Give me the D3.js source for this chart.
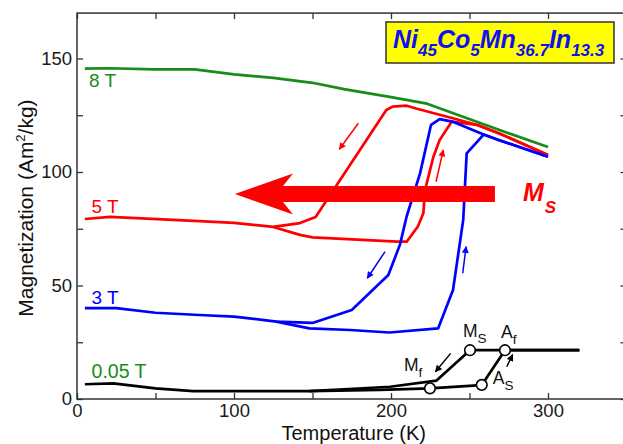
<!DOCTYPE html>
<html>
<head>
<meta charset="utf-8">
<script src="https://cdn.jsdelivr.net/npm/d3@7"></script>
<style>
  html, body { margin: 0; padding: 0; background: #fff; }
  svg { display: block; font-family: "Liberation Sans", Arial, Helvetica, sans-serif; }
</style>
</head>
<body>
<svg id="chart" width="623" height="444"></svg>
<script>
// ---- Magnetization vs temperature, Ni45Co5Mn36.7In13.3 ----

// 8 T (single curve, no hysteresis)
const temp8T = [5, 20, 50, 75, 100, 125, 150, 170, 200, 223, 248, 274, 300];
const mag8T  = [145.5, 145.7, 145.2, 145.2, 143.0, 141.5, 139.3, 136.5, 133.0, 130.1, 123.8, 117.3, 111.0];

// 5 T cooling branch (from 300 K downward)
const temp5TCool = [300, 269, 255, 240, 216, 210, 201, 197, 152, 147, 142, 125, 100, 78, 21, 5];
const mag5TCool  = [107.5, 117.0, 120.7, 123.6, 128.0, 129.2, 128.8, 127.3, 80.2, 78.9, 77.5, 75.8, 77.6, 78.4, 80.2, 79.3];
// 5 T heating branch (from the branch point upward)
const temp5THeat = [125, 142, 150, 204, 210, 217, 220.6, 221.7, 227, 231, 238.7, 255, 269, 300];
const mag5THeat  = [75.8, 72.3, 71.2, 69.3, 69.3, 75.9, 81.8, 92.1, 106.7, 114.1, 122.2, 120.7, 117.0, 107.5];

// 3 T cooling branch
const temp3TCool = [300, 269, 259, 239, 231, 225.5, 218.5, 210, 205.7, 198.3, 175, 150, 127, 100, 78, 50, 25, 5];
const mag3TCool  = [106.7, 114.0, 116.5, 122.2, 123.3, 120.8, 99.4, 80.5, 68.0, 54.6, 39.2, 33.5, 34.1, 36.3, 37.0, 38.0, 40.0, 40.0];
// 3 T heating branch
const temp3THeat = [127, 148, 174, 199, 230, 239.5, 246, 248.2, 259, 269, 300];
const mag3THeat  = [34.1, 31.1, 30.4, 29.3, 31.1, 48.0, 78.9, 108.2, 116.5, 114.0, 106.7];

// 0.05 T cooling branch
const temp005Cool = [320, 250.3, 229, 199.4, 170, 148, 74, 50, 23, 5];
const mag005Cool  = [21.5, 21.5, 8.1, 5.4, 4.3, 3.5, 3.5, 4.7, 6.9, 6.5];
// 0.05 T heating branch
const temp005Heat = [148, 193, 224.8, 252.4, 257.8, 272.6, 320];
const mag005Heat  = [3.5, 4.0, 4.7, 5.9, 6.2, 21.5, 21.5];

// Transition temperatures marked on the 0.05 T curve
const transNames = ["M", "A", "M", "A"];
const transSubs  = ["S", "f", "f", "S"];
const transTemp  = [250.3, 272.6, 224.8, 257.8];
const transMag   = [21.5, 21.5, 4.7, 6.2];

// Field labels
const fieldLabels = ["8 T", "5 T", "3 T", "0.05 T"];
const fieldLabelMag = [137.4, 81.9, 41.9, 9.3];

// Axis ticks
const xTicks = [0, 50, 100, 150, 200, 250, 300, 350];
const xTickLabels = [0, 100, 200, 300];
const yTicks = [0, 25, 50, 75, 100, 125, 150];
const yTickLabels = [0, 50, 100, 150];

// ---- layout ----
const svg = d3.select("#chart");
const x = d3.scaleLinear().domain([0, 350]).range([77, 626.5]);
const y = d3.scaleLinear().domain([0, 170]).range([399, 13.1]);

const GREEN = "#178c17", RED = "#ff0000", BLUE = "#0000ff", BLACK = "#000000", AXIS = "#333333";

// axes (ticks pointing inward)
function styleAxis(g) {
  g.select(".domain").remove();
  g.selectAll(".tick line").attr("stroke", AXIS).attr("stroke-width", 1.3);
  g.selectAll(".tick text").attr("fill", "#1a1a1a").style("font-size", "18.5px")
    .style("font-family", '"Liberation Sans", Arial, sans-serif');
}
svg.append("g").attr("transform", `translate(0,${y(0)})`)
  .call(d3.axisBottom(x).tickValues(xTicks).tickSize(-6).tickPadding(5)
    .tickFormat(d => xTickLabels.includes(d) ? d : ""))
  .call(styleAxis);
svg.append("g").attr("transform", `translate(0,${y(170)})`)
  .call(d3.axisTop(x).tickValues(xTicks).tickSize(-6).tickFormat(""))
  .call(styleAxis);
svg.append("g").attr("transform", `translate(${x(0)},0)`)
  .call(d3.axisLeft(y).tickValues(yTicks).tickSize(-6).tickPadding(5)
    .tickFormat(d => yTickLabels.includes(d) ? d : ""))
  .call(styleAxis);
svg.append("g").attr("transform", `translate(${x(350)},0)`)
  .call(d3.axisRight(y).tickValues(yTicks).tickSize(-6).tickFormat(""))
  .call(styleAxis);

// frame
svg.append("rect")
  .attr("x", x(0)).attr("y", y(170))
  .attr("width", x(350) - x(0)).attr("height", y(0) - y(170))
  .attr("fill", "none").attr("stroke", AXIS).attr("stroke-width", 1.5);

// axis titles
svg.append("text")
  .attr("x", (x(0) + x(350)) / 2 + 2).attr("y", 439.5)
  .attr("text-anchor", "middle").attr("fill", "#111").style("font-size", "20px")
  .text("Temperature (K)");
const yTitle = svg.append("text")
  .attr("transform", `translate(33,${(y(0) + y(170)) / 2 + 2}) rotate(-90)`)
  .attr("text-anchor", "middle").attr("fill", "#111").style("font-size", "21px");
yTitle.append("tspan").text("Magnetization (Am");
yTitle.append("tspan").attr("dy", -8).style("font-size", "13px").text("2");
yTitle.append("tspan").attr("dy", 8).text("/kg)");

// curves
const line = d3.line().x(d => x(d[0])).y(d => y(d[1]));
const zipPts = (t, m) => t.map((v, i) => [v, m[i]]);
const curves = [
  { t: temp8T, m: mag8T, c: GREEN },
  { t: temp5TCool, m: mag5TCool, c: RED },
  { t: temp5THeat, m: mag5THeat, c: RED },
  { t: temp3TCool, m: mag3TCool, c: BLUE },
  { t: temp3THeat, m: mag3THeat, c: BLUE },
  { t: temp005Cool, m: mag005Cool, c: BLACK },
  { t: temp005Heat, m: mag005Heat, c: BLACK }
];
svg.append("g").selectAll("path").data(curves).join("path")
  .attr("d", d => line(zipPts(d.t, d.m)))
  .attr("fill", "none").attr("stroke", d => d.c).attr("stroke-width", 2.7)
  .attr("stroke-linejoin", "round").attr("stroke-linecap", "butt");

// field labels
const labelColors = [GREEN, RED, BLUE, GREEN];
svg.append("g").selectAll("text").data(fieldLabels).join("text")
  .attr("x", (d, i) => x(i === 0 ? 7.6 : 9.3))
  .attr("y", (d, i) => y(fieldLabelMag[i]))
  .attr("fill", (d, i) => labelColors[i])
  .style("font-size", (d, i) => i === 3 ? "19.5px" : "19px")
  .text(d => d);

// big arrow indicating the shift of the martensite start temperature
const bigArrow = { tip: 100.6, barb: 137.6, notch: 131.2, tail: 266.2, mid: 90.3, shaftHalf: 3.5, barbHalf: 9.0 };
const ap = [
  [bigArrow.tip, bigArrow.mid],
  [bigArrow.barb, bigArrow.mid + bigArrow.barbHalf],
  [bigArrow.notch, bigArrow.mid + bigArrow.shaftHalf],
  [bigArrow.tail, bigArrow.mid + bigArrow.shaftHalf],
  [bigArrow.tail, bigArrow.mid - bigArrow.shaftHalf],
  [bigArrow.notch, bigArrow.mid - bigArrow.shaftHalf],
  [bigArrow.barb, bigArrow.mid - bigArrow.barbHalf]
];
svg.append("path").attr("d", line(ap) + "Z").attr("fill", RED);

const msLabel = svg.append("text")
  .attr("x", x(284)).attr("y", y(87.2))
  .attr("fill", RED).style("font-weight", "bold").style("font-style", "italic").style("font-size", "25px");
msLabel.append("tspan").text("M");
msLabel.append("tspan").attr("dy", 12).attr("dx", 1).style("font-size", "17px").text("S");

// small direction arrows (cooling / heating)
const defs = svg.append("defs");
[["red", RED], ["blue", BLUE], ["black", BLACK]].forEach(([n, c]) => {
  defs.append("marker").attr("id", "head-" + n)
    .attr("viewBox", "0 0 10 10").attr("refX", 9).attr("refY", 5)
    .attr("markerUnits", "userSpaceOnUse").attr("markerWidth", 9).attr("markerHeight", 7)
    .attr("orient", "auto")
    .append("path").attr("d", "M0,0 L10,5 L0,10 Z").attr("fill", c);
});
const smallArrows = [
  { from: [179.2, 121.5], to: [167.1, 110.0], c: RED, m: "red" },
  { from: [228.7, 95.7], to: [233.3, 109.7], c: RED, m: "red" },
  { from: [196.2, 64.9], to: [184.9, 53.2], c: BLUE, m: "blue" },
  { from: [245.7, 55.4], to: [247.8, 67.1], c: BLUE, m: "blue" },
  { from: [238.0, 20.1], to: [228.3, 12.0], c: BLACK, m: "black" },
  { from: [273.7, 14.2], to: [277.5, 19.6], c: BLACK, m: "black" }
];
svg.append("g").selectAll("line").data(smallArrows).join("line")
  .attr("x1", d => x(d.from[0])).attr("y1", d => y(d.from[1]))
  .attr("x2", d => x(d.to[0])).attr("y2", d => y(d.to[1]))
  .attr("stroke", d => d.c).attr("stroke-width", 1.5)
  .attr("marker-end", d => `url(#head-${d.m})`);

// transition markers and labels
const trans = transNames.map((n, i) => ({ n, s: transSubs[i], t: transTemp[i], m: transMag[i] }));
svg.append("g").selectAll("circle").data(trans).join("circle")
  .attr("cx", d => x(d.t)).attr("cy", d => y(d.m)).attr("r", 5.3)
  .attr("fill", "#fff").attr("stroke", BLACK).attr("stroke-width", 1.6);
const labelOffsets = [[-7, -13], [-4, -12], [-26, -17], [11, -1]];
const tl = svg.append("g").selectAll("text").data(trans).join("text")
  .attr("x", (d, i) => x(d.t) + labelOffsets[i][0])
  .attr("y", (d, i) => y(d.m) + labelOffsets[i][1])
  .attr("fill", "#111").style("font-size", "17.5px");
tl.append("tspan").text(d => d.n);
tl.append("tspan").attr("dy", 6).style("font-size", "13.5px").text(d => d.s);

// composition box
svg.append("rect").attr("x", 386).attr("y", 22).attr("width", 228).attr("height", 41)
  .attr("fill", "#ffff00").attr("stroke", "#333").attr("stroke-width", 1.5);
const formula = [["Ni", "45"], ["Co", "5"], ["Mn", "36.7"], ["In", "13.3"]];
const ft = svg.append("text").attr("x", 393).attr("y", 48)
  .attr("fill", "#1010f0").style("font-weight", "bold").style("font-style", "italic")
  .style("font-size", "25px");
formula.forEach(([el, n]) => {
  ft.append("tspan").attr("y", 48).style("font-size", "25px").text(el);
  ft.append("tspan").attr("y", 56).style("font-size", "17px").text(n);
});
</script>
</body>
</html>
